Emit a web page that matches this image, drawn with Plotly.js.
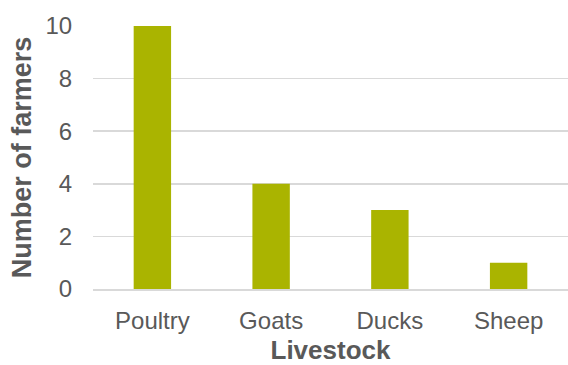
<!DOCTYPE html>
<html>
<head>
<meta charset="utf-8">
<script src="https://cdn.plot.ly/plotly-3.0.1.min.js"></script>
<style>
  html, body { margin: 0; padding: 0; background: #fff; }
  #chart { width: 568px; height: 365px; }
</style>
</head>
<body>
<div id="chart"></div>
<script>
// Livestock kept by farmers
const livestock = ['Poultry', 'Goats', 'Ducks', 'Sheep'];
const farmers = [10, 4, 3, 1];
const yTicks = [0, 2, 4, 6, 8, 10];

const textColor = '#595959';
const gridColor = '#d9d9d9';

const trace = {
  type: 'bar',
  x: livestock,
  y: farmers,
  width: 0.315,
  marker: { color: '#aab400' },
  hoverinfo: 'x+y'
};

const layout = {
  width: 568,
  height: 365,
  margin: { l: 92.5, r: 0, t: 25.7, b: 75.5 },
  paper_bgcolor: '#ffffff',
  plot_bgcolor: '#ffffff',
  showlegend: false,
  font: { family: 'Liberation Sans, Arial, sans-serif', color: textColor, size: 24 },
  xaxis: {
    type: 'category',
    showgrid: false,
    showline: true,
    linecolor: gridColor,
    linewidth: 1.5,
    ticks: 'outside',
    ticklen: 10,
    tickcolor: 'rgba(0,0,0,0)',
    tickfont: { size: 24, color: textColor },
    title: { text: '<b>Livestock</b>', font: { size: 26, color: textColor }, standoff: 9 }
  },
  yaxis: {
    range: [0, 10],
    tickvals: yTicks,
    ticktext: yTicks.map(String),
    showgrid: true,
    gridcolor: gridColor,
    gridwidth: 1.5,
    zeroline: false,
    showline: false,
    ticks: 'outside',
    ticklen: 15,
    tickcolor: 'rgba(0,0,0,0)',
    tickfont: { size: 24, color: textColor },
    title: { text: '<b>Number of farmers</b>', font: { size: 27, color: textColor }, standoff: 6 }
  }
};

Plotly.newPlot('chart', [trace], layout, { displayModeBar: false, staticPlot: true });
</script>
</body>
</html>
